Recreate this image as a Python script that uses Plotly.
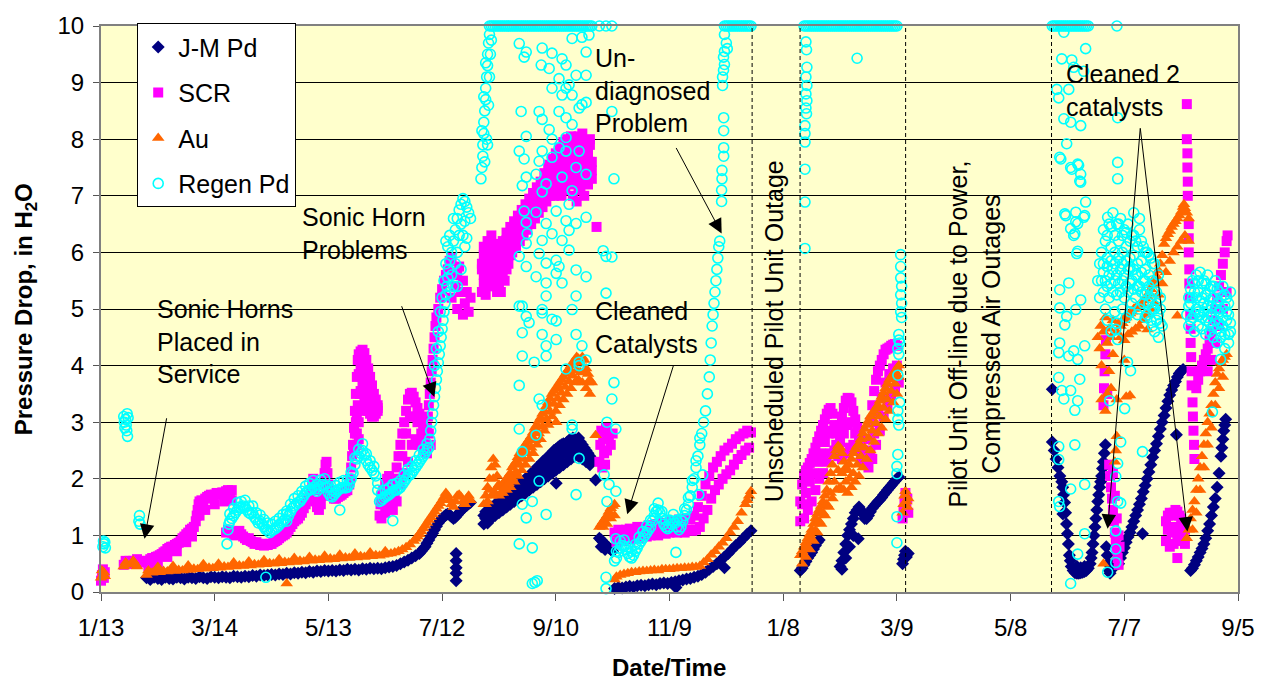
import pandas as pd
import plotly.graph_objects as go

START_DATE = "2006-01-13"
END_DATE = "2007-09-05"
TICK_STEP_DAYS = 60

# Points: (days since 1/13, pressure drop in H2O)
JM_PD_YEAR1 = [
    (24,0.25),(26,0.22),(28,0.26),(30,0.24),(32,0.22),(34,0.26),(36,0.24),(38,0.23),(40,0.26),(42,0.25),
    (44,0.23),(46,0.26),(48,0.25),(50,0.24),(52,0.27),(54,0.25),(56,0.24),(58,0.27),(60,0.26),(62,0.25),
    (64,0.27),(66,0.26),(68,0.25),(70,0.28),(72,0.27),(74,0.26),(76,0.28),(78,0.27),(80,0.29),(82,0.28),
    (84,0.3),(86,0.29),(88,0.3),(90,0.31),(92,0.3),(94,0.32),(96,0.31),(98,0.33),(100,0.32),(102,0.34),
    (104,0.33),(106,0.35),(108,0.34),(110,0.36),(112,0.35),(114,0.37),(116,0.36),(118,0.38),(120,0.37),
    (122,0.38),(124,0.37),(126,0.39),(128,0.38),(130,0.4),(132,0.39),(134,0.4),(136,0.39),(138,0.41),
    (140,0.4),(142,0.42),(144,0.41),(146,0.42),(148,0.41),(150,0.43),(152,0.44),(154,0.45),(156,0.47),
    (158,0.5),(160,0.53),(162,0.56),(164,0.6),(166,0.64),(168,0.68),(169,0.72),(170,0.76),(171,0.8),
    (172,0.86),(173,0.92),(174,0.98),(175,1.04),(176,1.1),(177,1.16),(178,1.22),(179,1.27),(180,1.3),
    (181,1.33),(182,1.36),(183,1.38),(184,1.36),(185,1.33),(186,1.3),(187,1.32),(188,1.36),(189,1.4),
    (190,1.44),(191,1.47),(192,1.5),(193,1.53),(194,1.56),(195,1.58),
    (187.4,0.68),(187.4,0.55),(187.4,0.43),(187.4,0.33),(187.4,0.2),
    (202,1.35),(203,1.42),(204,1.38),(205,1.45),(206,1.5),(207,1.48),(208,1.55),(209,1.52),(210,1.58),
    (211,1.62),(212,1.6),(213,1.66),(214,1.7),(215,1.72),(216,1.75),(217,1.78),(218,1.82),(219,1.85),
    (220,1.88),(221,1.9),(222,1.92),(223,1.96),(224,2.0),(225,2.02),(226,2.05),(227,2.1),(228,2.12),
    (229,2.15),(230,2.2),(231,2.22),(232,2.25),(233,2.3),(234,2.32),(235,2.35),(236,2.4),(237,2.42),
    (238,2.45),(239,2.5),(240,2.52),(241,2.55),(242,2.58),(243,2.6),(244,2.62),(245,2.6),(246,2.65),
    (247,2.68),(248,2.7),(249,2.72),(250,2.7),(251,2.68),(252,2.72),(253,2.65),(254,2.6),(255,2.55),
    (256,2.5),(257,2.45),(258,2.4),(259,2.3),
    (202,1.2),(204,1.22),(206,1.3),(208,1.35),(210,1.4),(212,1.45),(214,1.5),(216,1.55),(218,1.6),
    (220,1.65),(222,1.7),(224,1.75),(226,1.8),(228,1.85),(230,1.9),(232,1.95),(234,2.0),(236,2.05),
    (238,2.1),(240,2.15),(242,2.2),(244,2.25),(246,2.3),(248,2.35),(250,2.4),(252,2.4),(254,2.35),
    (256,2.3),(258,2.25),(240.2,1.92),(261,1.98),
    (203,1.3),(205,1.33),(207,1.4),(209,1.45),(211,1.52),(213,1.57),(215,1.62),(217,1.67),(219,1.72),
    (221,1.78),(223,1.83),(225,1.9),(227,1.95),(229,2.0),(231,2.05),(233,2.12),(235,2.18),(237,2.24),
    (239,2.3),(241,2.35),(243,2.42),(245,2.45),(247,2.5),(249,2.55),(251,2.55),(253,2.5),(255,2.45),(257,2.38),
    (263,0.95),(264,0.92),(265,0.88),(266,0.85),(267,0.8),(268,0.78),(269,0.75),(270,0.72),(264,0.8),(266,0.75),
    (271,0.06),(273,0.08),(275,0.07),(277,0.09),(279,0.1),(281,0.09),(283,0.11),(285,0.12),(287,0.11),
    (289,0.13),(291,0.14),(293,0.13),(295,0.15),(297,0.16),(299,0.15),(301,0.17),(303,0.18),(305,0.2),
    (307,0.21),(309,0.23),(311,0.24),(313,0.26),(315,0.28),(317,0.31),(319,0.35),(321,0.4),(323,0.45),
    (325,0.5),(327,0.56),(329,0.62),(331,0.68),(333,0.75),(335,0.82),(337,0.88),(339,0.95),(341,1.02),
    (343,1.08),(303.4,0.08),(329,0.43),
]
JM_PD_YEAR2 = [
    (369,0.38),(370,0.42),(371,0.48),(372,0.54),(373,0.6),(374,0.65),(375,0.7),(376,0.76),(377,0.82),
    (378,0.88),(379,0.92),
    (390,0.45),(391,0.55),(392,0.7),(393,0.85),(394,1.0),(395,1.1),(396,1.2),(397,1.3),(398,1.4),
    (399,1.45),(400,1.5),(401,1.45),(402,1.38),(403,1.3),(404,1.3),(405,1.35),(406,1.42),(407,1.48),
    (408,1.52),(409,1.56),(410,1.6),(411,1.63),(412,1.67),(413,1.72),(414,1.76),(415,1.8),(416,1.84),
    (417,1.88),(418,1.92),(419,1.96),(420,2.0),(421,2.03),(391,0.4),(393,0.6),(395,0.8),(397,1.0),
    (399.6,0.94),
    (423,0.5),(423.5,0.58),(424,0.65),(424.5,0.72),(425,0.62),(426,0.68),
    (502,2.65),(503,2.5),(504,2.35),(505,2.2),(506,2.05),(507,1.95),(507.5,1.85),(508,1.72),(508.5,1.58),
    (509,1.4),(509.5,1.2),(510,1.03),(510.5,0.85),(511,0.65),(511.5,0.55),(512,0.45),(513,0.38),
    (514,0.34),(515,0.33),(516,0.33),(517,0.34),(518,0.35),(519,0.36),(520,0.38),(521,0.42),(522,0.5),
    (522.5,0.6),(523,0.7),(523.5,0.85),(524,1.0),(524.5,1.15),(525,1.3),(525.5,1.45),(526,1.6),
    (526.5,1.72),(527,1.85),(527.5,1.95),(528,2.05),(528.5,2.18),(529,2.3),(529.5,2.45),(530,2.6),
    (515,0.45),(517,0.43),(519,0.45),(502,3.58),(507.6,1.38),
    (530.5,0.8),(531,0.65),(531.5,0.5),(532,0.38),(532.5,0.33),(533,0.4),(534,0.5),(535,0.45),
    (536,0.55),(537,0.5),(538,0.6),(539,0.7),(540,0.78),(541,0.88),(542,0.97),(543,1.05),(544,1.15),
    (545,1.25),(546,1.35),(547,1.45),(548,1.55),(549,1.65),(550,1.77),(551,1.88),(552,2.0),(553,2.12),
    (554,2.25),(555,2.38),(556,2.5),(557,2.62),(558,2.75),(559,2.88),(560,3.0),(561,3.12),(562,3.25),
    (563,3.37),(564,3.48),(565,3.57),(566,3.65),(567,3.72),(568,3.8),(569,3.86),(570,3.9),(571,3.93),
    (549.6,1.03),(567.5,2.78),
    (575,0.38),(576,0.42),(577,0.48),(578,0.55),(579,0.62),(580,0.7),(581,0.77),(582,0.85),(583,0.95),
    (584,1.08),(585,1.2),(586,1.35),(587,1.5),(588,1.65),(589,1.85),(590,2.1),(591,2.4),(591.5,2.55),
    (592,2.7),(592.5,2.85),(593,2.95),(593.5,3.05),
]

SCR_YEAR1 = [
    (0,0.2),(0.5,0.3),(1,0.4),(1.5,0.25),(2,0.35),
    (12,0.48),(13,0.55),(14,0.5),(15,0.55),(16,0.5),(17,0.55),(18,0.5),(19,0.58),(20,0.55),
    (23,0.52),(24,0.55),(25,0.55),(26,0.58),(27,0.6),(28,0.6),(29,0.62),(30,0.63),(31,0.65),(32,0.67),
    (33,0.7),(34,0.72),(35,0.76),(36,0.78),(37,0.8),(38,0.8),(39,0.83),(40,0.85),(41,0.87),(42,0.9),
    (43,0.95),(44,0.98),(45,1.02),(46,1.05),(47,1.1),(48,1.12),(49,1.15),(50,1.25),(50.5,1.35),(51,1.45),
    (51.5,1.55),(52,1.6),(53,1.62),(54,1.6),(55,1.65),(56,1.68),(57,1.7),(58,1.72),(59,1.7),(60,1.72),
    (61,1.75),(62,1.72),(63,1.74),(64,1.76),(65,1.75),(66,1.78),(67,1.8),(68,1.78),(69,1.8),
    (25,0.45),(30,0.5),(35,0.62),(40,0.72),(45,0.88),(48,0.98),(52,1.35),(55,1.45),(60,1.55),(65,1.6),(69,1.62),
    (66,1.05),(67,1.1),(68,1.08),(69,1.05),(70,1.0),(71,1.02),(72,1.05),(73,1.08),(74,1.02),(75,0.98),
    (76,0.95),(77,0.92),(78,0.95),(79,0.9),(80,0.88),(81,0.85),(82,0.88),(83,0.85),(84,0.83),(85,0.85),
    (86,0.82),(87,0.85),(88,0.83),(89,0.85),(90,0.85),(91,0.88),(92,0.9),(93,0.92),(94,0.95),(95,0.98),
    (96,1.0),(97,1.02),(98,1.05),(99,1.1),(100,1.15),(101,1.2),(102,1.25),(103,1.28),(104,1.3),(105,1.35),
    (106,1.4),(107,1.48),(108,1.55),(109,1.62),(110,1.7),(111,1.8),(111.5,1.9),(112,2.0),(112.5,1.8),
    (113,1.6),(114,1.5),(115,1.45),(116,1.55),(117,1.7),(117.5,1.9),(118,2.1),(118.5,2.25),(119,2.3),
    (119.5,2.1),(120,1.9),(121,1.75),(122,1.7),(123,1.65),(124,1.65),(125,1.68),(126,1.7),(127,1.72),
    (128,1.75),(129,1.78),(130,1.8),(131,1.9),(131.5,2.0),(132,2.2),(132.5,2.4),(133,2.6),(133.5,2.9),
    (134,3.2),(134.5,3.5),(135,3.8),(135.5,4.1),(136,4.2),(137,4.25),(138,4.28),(139,4.22),(140,4.1),
    (141,3.95),(142,3.8),(143,3.65),(144,3.5),(145,3.4),(146,3.3),(138,3.9),(139,3.6),(140,3.4),
    (141,3.2),(142,3.15),(143,3.1),(144,3.1),(145,3.15),(146,3.2),(137,3.55),(136,3.85),(136,3.0),
    (137,3.2),(135,2.8),
    (134,2.5),(135,2.6),(136,2.7),(134.5,3.0),(135.5,3.3),(136.5,3.5),(137.5,3.8),(138.5,4.05),
    (137,4.0),(138,3.7),(139,3.35),(139.5,3.9),(140,3.75),(140.5,3.25),(141,3.55),(142,3.45),(143,3.35),
    (144,3.28),(145,3.25),(146,3.25),(141.5,3.7),(142.5,3.6),(143.5,3.45),(134,2.8),(135,3.1),(133.5,2.5),
    (147,1.35),(147.5,1.55),(148,1.7),(149,1.8),(150,1.9),(151,2.0),(152,2.05),(153,1.95),(154,1.85),
    (155,2.0),(156,2.2),(157,2.4),(158,2.6),(159,2.8),(160,3.0),(161,3.2),(162,3.4),(163,3.5),(164,3.52),
    (165,3.45),(166,3.35),(167,3.25),(168,3.15),(169,3.05),(170,2.95),(171,2.85),(172,2.9),(172.5,3.1),
    (173,3.3),(173.5,3.5),(174,3.7),(174.5,3.9),(175,4.1),(175.5,4.3),(176,4.5),(176.5,4.7),(177,4.85),
    (178,5.0),(179,5.2),(180,5.35),(181,5.5),(182,5.6),
    (148,1.3),(150,1.4),(152,1.5),(154,1.45),(156,1.6),(158,1.9),(160,2.1),(162,2.3),(164,2.6),(166,2.7),
    (168,2.6),(170,2.5),(172,2.45),(174,2.6),
    (149,1.55),(151,1.65),(153,1.7),(155,1.75),(157,2.0),(159,2.4),(161,2.8),(163,3.1),(165,3.1),
    (167,3.0),(169,2.8),(171,2.65),(173,2.8),
    (183,5.7),(184,5.85),(185,5.9),(186,5.6),(187,5.4),(188,5.6),(189,5.75),(190,5.3),(191,5.5),(192,5.1),
    (193,5.3),(194,4.95),(195,5.2),(185,5.2),(188,5.0),(191,4.9),
    (201,5.3),(203,5.25),(205,5.4),(207,5.5),(209,5.3),(211,5.3),(213,5.5),(215,5.8),(217,6.0),(219,6.1),
    (221,6.2),(223,6.3),(225,6.4),(227,6.5),(229,6.6),(231,6.7),(233,6.8),(235,6.9),(237,7.0),(239,7.0),
    (241,7.1),(243,7.0),(245,7.1),(247,7.2),(249,7.0),(251,6.9),(253,7.1),(255,7.0),(257,7.2),(259,7.3),
    (202,5.45),(204,5.5),(206,5.6),(208,5.6),(210,5.45),(212,5.55),(214,5.7),(216,5.95),(218,6.12),
    (220,6.22),(222,6.32),(224,6.42),(226,6.52),(228,6.62),(230,6.72),(232,6.82),(234,6.92),(236,7.05),
    (238,7.15),(240,7.18),(242,7.28),(244,7.25),(246,7.32),(248,7.4),(250,7.25),(252,7.15),(254,7.3),
    (256,7.25),(258,7.4),
    (202,5.6),(204,5.7),(206,5.8),(208,5.75),(210,5.6),(212,5.75),(214,5.9),(216,6.1),(218,6.25),(220,6.35),
    (222,6.45),(224,6.55),(226,6.65),(228,6.75),(230,6.85),(232,6.95),(234,7.05),(236,7.2),(238,7.3),
    (240,7.35),(242,7.45),(244,7.45),(246,7.55),(248,7.6),(250,7.5),(252,7.4),(254,7.5),(256,7.45),(258,7.6),
    (201,5.7),(203,5.82),(205,5.92),(207,5.85),(209,5.72),(211,5.85),(213,6.0),(215,6.15),(217,6.28),
    (219,6.38),(221,6.48),(223,6.58),(225,6.68),(227,6.78),(229,6.88),(231,6.98),(233,7.08),(235,7.25),
    (237,7.35),(239,7.42),(241,7.52),(243,7.58),(245,7.65),(247,7.7),(249,7.65),(251,7.58),(253,7.65),
    (255,7.58),(257,7.7),(259,7.45),
    (201,5.8),(203,5.95),(205,6.05),(207,5.95),(209,5.85),(211,5.95),(213,6.1),(215,6.2),(217,6.3),(219,6.4),
    (221,6.5),(223,6.6),(225,6.7),(227,6.8),(229,6.9),(231,7.0),(233,7.1),(235,7.3),(237,7.4),(239,7.5),
    (241,7.6),(243,7.7),(245,7.75),(247,7.8),(249,7.8),(251,7.75),(253,7.8),(255,7.7),(257,7.8),(259,7.6),
    (202,5.95),(204,6.05),(206,6.15),(208,6.05),(210,5.95),(212,6.08),(214,6.22),(216,6.32),(218,6.42),
    (220,6.52),(222,6.62),(224,6.72),(226,6.82),(228,6.92),(230,7.02),(232,7.12),(234,7.25),(236,7.4),
    (238,7.5),(240,7.6),(242,7.7),(244,7.78),(246,7.85),(248,7.92),(250,7.9),(252,7.9),(254,7.95),
    (256,7.82),(258,7.9),
    (202,6.1),(204,6.2),(206,6.3),(208,6.15),(210,6.05),(212,6.2),(214,6.35),(216,6.45),(218,6.55),(220,6.65),
    (222,6.75),(224,6.85),(226,6.95),(228,7.05),(230,7.15),(232,7.25),(234,7.4),(236,7.55),(238,7.65),
    (240,7.75),(242,7.85),(244,7.95),(246,8.0),(248,8.05),(250,8.0),(252,8.05),(254,8.1),(256,7.95),(258,8.0),
    (261.5,6.45),
    (263,2.3),(263.5,2.6),(264,2.85),(265,2.7),(265.5,2.45),(266,2.25),(267,2.5),(268,2.75),(269,2.6),
    (270,2.8),(264.5,2.2),(266.5,2.9),
    (271,1.05),(273,1.1),(275,1.05),(277,1.1),(279,1.12),(281,1.1),(283,1.15),(285,1.12),(287,1.15),
    (289,1.18),(291,1.15),(293,1.2),(295,1.18),(297,1.22),(299,1.2),(301,1.25),(303,1.22),(305,1.28),
    (307,1.25),(309,1.3),(311,1.28),(313,1.35),(315,1.5),(317,1.7),(319,1.9),(321,2.05),(323,2.2),
    (325,2.3),(327,2.4),(329,2.5),(331,2.55),(333,2.62),(335,2.7),(337,2.75),(339,2.8),(341,2.85),(343,2.82),
    (272,0.88),(274,0.92),(276,0.9),(278,0.95),(280,0.93),(282,0.97),(284,0.95),(286,1.0),(288,0.98),
    (290,1.0),(292,1.02),(294,1.0),(296,1.05),(298,1.03),(300,1.05),(302,1.08),(304,1.05),(306,1.1),
    (308,1.05),(310,1.1),(312,1.08),(314,1.1),(316,1.15),(318,1.3),(320,1.45),(322,1.65),(324,1.8),
    (326,1.9),(328,2.0),(330,2.08),(332,2.15),(334,2.25),(336,2.35),(338,2.42),(340,2.5),(342,2.55),
]
SCR_YEAR2 = [
    (369,1.6),(370,1.9),(371,2.05),(372,2.15),(373,2.2),(374,2.28),(375,2.35),(376,2.45),(377,2.55),
    (378,2.65),(379,2.75),(380,2.85),(381,2.95),(382,3.05),(383,3.15),(384,3.22),(385,3.25),(386,3.15),
    (387,2.95),(388,2.8),(389,2.85),(390,2.95),(391,3.1),(392,3.25),(393,3.38),(394,3.43),(395,3.42),
    (396,3.35),(397,3.2),(398,3.05),(399,2.9),(400,2.75),(401,2.6),(402,2.5),(403,2.4),(404,2.45),
    (405,2.7),(406,3.0),(407,3.3),(408,3.55),(409,3.75),(410,3.9),(411,4.0),(412,4.1),(413,4.2),
    (414,4.28),(415,4.3),(416,4.32),(417,4.35),(418,4.37),(419,4.38),(420,4.35),
    (370,1.55),(372,1.75),(374,1.95),(376,2.1),(378,2.3),(380,2.45),(382,2.65),(384,2.8),(386,2.85),
    (388,2.6),(390,2.65),(392,2.8),(394,2.95),(396,3.0),(398,2.8),(400,2.6),(402,2.4),(404,2.25),
    (406,2.5),(408,2.8),(410,3.15),(412,3.45),(414,3.7),(416,3.85),(418,3.95),(420,4.0),
    (369,1.25),(371,1.3),(373,1.45),(375,1.6),(377,1.8),(379,2.0),(381,2.1),(383,2.3),(385,2.45),
    (387,2.5),(389,2.4),(391,2.35),(393,2.45),(395,2.55),(397,2.6),(399,2.5),(401,2.35),(403,2.25),
    (405,2.2),(407,2.35),(409,2.6),(411,2.85),(413,3.1),(415,3.3),(417,3.45),(419,3.6),(421,3.7),
    (423,1.3),(423.5,1.45),(424,1.6),(424.5,1.75),(425,1.5),(425.5,1.65),(426,1.4),
    (529,3.3),(529.3,3.6),(529.6,3.9),(530,4.2),(530.3,4.45),(531,3.5),
    (532,2.25),(532.5,2.05),(533,1.85),(533.5,1.65),(534,1.45),(534.5,1.25),(535,1.05),(535.5,0.9),
    (536,0.75),(536.5,0.6),(537,0.48),(534,2.1),(535,1.7),(536,1.3),(537,1.0),(537.5,0.8),
    (562,1.25),(563,1.35),(564,1.4),(565,1.35),(566,1.4),(567,1.45),(568,1.42),(569,1.35),(570,1.3),
    (571,1.2),(572,1.1),(562,0.9),(564,0.8),(566,0.85),(568,0.95),(570,0.9),(572,0.85),(563,1.1),
    (565,1.05),(567,1.15),(569,1.1),(571,0.95),(568,0.6),
    (573,8.62),(573,8.0),(573.3,7.75),(573.3,7.5),(573.5,7.25),(573.5,7.0),(574,6.5),(574,6.25),
    (574,6.0),(574.3,5.7),(574.3,5.45),(574.5,5.2),(574.8,4.9),(575,4.65),(575,4.4),(575.3,4.15),
    (575.5,3.9),(575.5,3.65),(576,3.35),(576.2,3.1),(576.5,2.85),(576.8,2.6),(577,2.35),
    (578,3.6),(579,3.75),(580,3.9),(581,4.0),(582,4.1),(583,4.2),(584,4.3),(585,4.45),(586,4.6),
    (587,4.8),(588,5.0),(589,5.2),(590,5.4),(591,5.6),(592,5.8),(593,6.0),(594,6.2),(594.5,6.3),
    (584,3.9),(586,4.1),(588,4.4),(590,4.7),(592,5.0),(594,5.3),
]

AU_YEAR1 = [
    (0,0.25),(0.5,0.38),(1,0.3),(1.5,0.35),(2,0.28),
    (12,0.45),(13,0.52),(14,0.48),(16,0.5),(17,0.55),(18,0.5),(19,0.45),
    (24,0.3),(25,0.38),(27,0.34),(29,0.36),(31,0.35),(33,0.37),(35,0.36),(37,0.38),(39,0.37),(41,0.39),
    (43,0.38),(45,0.4),(47,0.39),(49,0.41),(51,0.4),(53,0.42),(55,0.41),(57,0.43),(59,0.42),(61,0.44),
    (63,0.43),(65,0.45),(67,0.44),(69,0.46),(71,0.45),(73,0.47),(75,0.46),(77,0.48),(79,0.47),(81,0.49),
    (83,0.48),(85,0.5),(87,0.49),(89,0.51),(91,0.5),(93,0.52),(95,0.51),(97,0.53),(99,0.52),(101,0.54),
    (103,0.53),(105,0.55),(107,0.54),(109,0.56),(111,0.55),(113,0.57),(115,0.56),(117,0.58),(119,0.57),
    (121,0.59),(123,0.58),(125,0.6),(127,0.59),(129,0.61),(131,0.6),(133,0.62),(135,0.61),(137,0.63),
    (139,0.62),(141,0.64),(143,0.63),(145,0.65),(147,0.64),(149,0.66),(151,0.67),(153,0.68),(155,0.7),
    (157,0.72),(159,0.75),(161,0.79),(163,0.84),(165,0.9),(166,0.94),(167,0.98),(168,1.02),(169,1.07),
    (170,1.12),(171,1.17),(172,1.22),(173,1.27),(174,1.32),(175,1.37),(176,1.42),(177,1.47),(178,1.52),
    (179,1.57),(180,1.62),(181,1.68),(182,1.75),(183,1.7),(184,1.62),(185,1.55),(186,1.5),(187,1.6),
    (188,1.7),(189,1.72),(190,1.68),(191,1.6),(192,1.55),(193,1.65),(194,1.7),(195,1.62),(98,0.15),
    (30,0.44),(38,0.46),(46,0.47),(54,0.49),(62,0.5),(70,0.52),(78,0.54),(86,0.56),(94,0.58),(102,0.6),
    (110,0.62),(118,0.64),(126,0.66),(134,0.68),(142,0.7),(150,0.72),
    (202,1.55),(203,1.7),(204,1.85),(205,2.0),(206,2.2),(207,2.35),(208,2.25),(209,2.05),(210,1.9),
    (211,1.85),(212,1.9),(213,1.95),(214,2.0),(215,2.05),(216,2.1),(217,2.2),(218,2.25),(219,2.3),
    (220,2.38),(221,2.45),(222,2.5),(223,2.55),(224,2.6),(225,2.65),(226,2.7),(227,2.75),(228,2.82),
    (229,2.9),(230,2.95),(231,3.02),(232,3.08),(233,3.15),(234,3.2),(235,3.28),(236,3.35),(237,3.42),
    (238,3.5),(239,3.55),(240,3.6),(241,3.65),(242,3.7),(243,3.75),(244,3.8),(245,3.85),(246,3.9),
    (247,3.95),(248,4.0),(249,4.05),(250,4.1),(251,4.15),(252,4.12),(253,4.05),(254,4.15),(255,4.1),
    (256,3.95),(257,3.85),(258,3.75),(259,3.7),
    (204,1.6),(206,1.7),(208,1.75),(210,1.7),(212,1.75),(214,1.8),(216,1.85),(218,1.95),(220,2.05),
    (222,2.15),(224,2.25),(226,2.35),(228,2.45),(230,2.6),(232,2.7),(234,2.85),(236,2.95),(238,3.1),
    (240,3.2),(242,3.3),(244,3.4),(246,3.5),(248,3.6),(250,3.7),(252,3.75),(254,3.7),(256,3.6),(258,3.5),
    (203,1.55),(205,1.8),(207,2.0),(209,1.85),(211,1.75),(213,1.85),(215,1.92),(217,2.0),(219,2.12),
    (221,2.25),(223,2.35),(225,2.45),(227,2.55),(229,2.68),(231,2.8),(233,2.92),(235,3.05),(237,3.18),
    (239,3.32),(241,3.42),(243,3.52),(245,3.62),(247,3.72),(249,3.82),(251,3.92),(253,3.88),(255,3.9),(257,3.7),
    (240.2,3.0),(261,2.77),
    (263,1.15),(264,1.2),(265,1.25),(266,1.3),(267,1.35),(268,1.42),(269,1.48),(270,1.52),(271,1.55),
    (265,1.15),(267,1.2),(269,1.3),(271,1.35),
    (271,0.22),(272,0.27),(274,0.3),(276,0.32),(278,0.33),(280,0.35),(282,0.35),(284,0.36),(286,0.37),
    (288,0.37),(290,0.38),(292,0.39),(294,0.38),(296,0.4),(298,0.4),(300,0.4),(302,0.41),(304,0.42),
    (306,0.42),(308,0.43),(310,0.43),(312,0.44),(314,0.44),(316,0.46),(318,0.52),(320,0.58),(322,0.66),
    (324,0.72),(326,0.8),(328,0.87),(330,0.95),(332,1.05),(334,1.15),(336,1.25),(338,1.4),(340,1.55),
    (341,1.62),(342,1.7),(343,1.78),
]
AU_YEAR2 = [
    (369,0.65),(370,0.72),(371,0.8),(372,0.88),(373,0.95),(374,1.02),(375,1.1),(376,1.2),(377,1.3),
    (378,1.38),(379,1.45),(380,1.52),(381,1.6),(382,1.7),(383,1.8),(384,1.95),(385,2.1),(386,2.25),
    (387,2.4),(388,2.5),(389,2.58),(390,2.55),(391,2.45),(392,2.3),(393,2.2),(394,2.15),(395,2.25),
    (396,2.35),(397,2.45),(398,2.52),(399,2.58),(400,2.62),(401,2.7),(402,2.8),(403,2.88),(404,2.95),
    (405,3.02),(406,3.1),(407,3.15),(408,3.2),(409,3.25),(410,3.3),(411,3.38),(412,3.45),(413,3.52),
    (414,3.6),(415,3.68),(416,3.75),(417,3.8),(418,3.85),(419,3.9),(420,3.95),(421,4.0),
    (370,0.5),(372,0.62),(374,0.75),(376,0.9),(378,1.05),(380,1.2),(382,1.35),(384,1.5),(386,1.65),
    (388,1.8),(390,1.85),(392,1.8),(394,1.75),(396,1.85),(398,1.95),(400,2.05),(402,2.2),(404,2.35),
    (406,2.5),(408,2.65),(410,2.8),(412,2.9),(414,3.05),(416,3.2),(418,3.35),(420,3.5),
    (371,0.65),(373,0.78),(375,0.92),(377,1.08),(379,1.25),(381,1.4),(383,1.55),(385,1.75),(387,1.95),
    (389,2.15),(391,2.1),(393,1.95),(395,2.0),(397,2.1),(399,2.25),(401,2.4),(403,2.55),(405,2.72),
    (407,2.85),(409,2.98),(411,3.1),(413,3.25),(415,3.4),(417,3.55),(419,3.68),(421,3.8),
    (423,1.4),(423.5,1.55),(424,1.7),(424.5,1.78),(425,1.6),(425.5,1.5),(426,1.65),
    (526,4.5),(527,4.3),(527.5,4.7),(528,4.0),(528,3.4),(529,4.6),(529,0.5),(530,3.2),(530,4.85),
    (531,3.5),(531,4.4),(532,3.9),(532,4.65),(533,3.6),(533,4.5),(534,4.2),(534,4.8),(535,2.3),
    (535.5,2.5),(536,2.75),(536,3.4),(536,4.6),(537,4.75),(538,4.5),(539,4.8),(540,4.1),(541,3.45),
    (541.5,4.9),(543,3.47),(552.3,4.64),(568,4.88),
    (538,4.7),(539,4.75),(540,4.8),(541,4.85),(542,4.9),(543,4.92),(544,4.95),(545,5.0),(546,5.02),
    (547,5.05),(548,5.08),(549,5.1),(550,5.15),(551,5.18),(552,5.22),(553,5.28),(554,5.35),(555,5.42),
    (556,5.5),(557,5.58),(558,5.68),(559,5.8),(560,5.95),(561,6.15),(562,6.25),(563,6.32),(564,6.38),
    (565,6.45),(566,6.5),(567,6.55),(568,6.6),(569,6.65),(570,6.72),(571,6.8),(571.5,6.85),(572,6.78),
    (573,6.7),(574,6.6),
    (540,4.45),(542,4.55),(544,4.6),(546,4.65),(548,4.7),(550,4.8),(552,4.9),(554,5.0),(556,5.1),
    (558,5.25),(560,5.45),(562,5.65),(564,5.85),(566,6.0),(568,6.1),(570,6.2),(572,6.3),(574,6.2),
    (573,0.95),(574,1.1),(575,1.3),(576,1.45),(577,1.6),(578,1.8),(579,2.0),(580,2.2),(581,2.4),
    (582,2.6),(583,2.8),(584,3.0),(585,3.15),(586,3.3),(587,3.5),(588,3.7),(589,3.85),(590,3.95),
    (591,4.05),(592,4.1),(593,4.15),(594,4.2),
    (576,1.1),(578,1.4),(580,1.8),(582,2.2),(584,2.6),(586,2.9),(588,3.3),(590,3.6),(592,3.8),
]

REGEN_PD_YEAR1 = [
    (1,0.8),(1.3,0.9),(1.6,0.85),(2,0.88),(2.3,0.78),
    (12,3.1),(12.3,3.0),(12.6,2.9),(13,3.05),(13.3,2.95),(13.6,2.85),(14,2.75),(14.3,3.08),(13.8,3.15),
    (20,1.25),(20.3,1.35),(20.6,1.2),(87,0.26),
    (66.5,0.85),(67,1.1),(67.5,1.2),(68,1.25),(69,1.3),(70,1.35),(71,1.4),(72,1.45),(73,1.5),(74,1.48),
    (75,1.52),(76,1.5),(77,1.45),(78,1.4),(79,1.38),(80,1.4),(81,1.32),(82,1.28),(83,1.22),(84,1.25),
    (85,1.2),(86,1.15),(87,1.1),(88,1.1),(89,1.05),(90,1.08),(91,1.1),(92,1.12),(93,1.15),(94,1.18),
    (95,1.22),(96,1.25),(97,1.28),(98,1.25),(99,1.35),(100,1.42),(101,1.48),(102,1.52),(103,1.55),
    (104,1.58),(105,1.6),(106,1.65),(107,1.7),(108,1.75),(109,1.78),(110,1.8),(111,1.82),(112,1.85),
    (113,1.82),(114,1.78),(115,1.82),(116,1.86),(117,1.9),(118,1.88),(119,1.85),(120,1.75),(121,1.7),
    (122,1.68),(123,1.72),(124,1.76),(125,1.8),(126,1.82),(127,1.84),(128,1.85),(129,1.84),(130,1.85),
    (131,1.9),(132,2.0),(133,2.1),(134,2.25),(135,2.35),(136,2.4),(137,2.45),(138,2.5),(139,2.42),
    (140,2.32),(141,2.25),(142,2.2),(143,2.15),(144,2.1),(145,2.05),(146,1.8),(147,1.6),(148,1.62),
    (149,1.65),(150,1.68),(151,1.7),(152,1.72),(153,1.75),(154,1.78),(155,1.8),(156,1.8),(157,1.82),
    (158,1.85),(159,1.9),(160,1.95),(161,2.0),(162,2.05),(163,2.07),(164,2.1),(165,2.15),(166,2.2),
    (167,2.25),(168,2.3),(169,2.35),(170,2.4),(171,2.45),(172,2.5),(173,2.55),(173.5,2.7),(174,2.85),
    (174.5,3.0),(175,3.15),(175.5,3.3),(176,3.45),(176.5,3.6),(177,3.75),(177.5,3.9),(178,4.05),
    (178.5,4.2),(179,4.35),(179.5,4.5),(180,4.65),(180.5,4.8),(181,4.95),(181.5,5.1),(182,5.25),
    (182.5,5.4),(183,5.55),(183.5,5.7),(184,5.85),(185,6.0),(186,6.2),(187,6.4),(188,6.6),(189,6.75),
    (190,6.85),(191,6.95),(192,6.9),(193,6.8),(194,6.7),(195,6.6),
    (68,1.38),(70,1.48),(72,1.58),(74,1.6),(76,1.62),(78,1.52),(80,1.52),(82,1.4),(84,1.36),(86,1.28),
    (88,1.22),(90,1.2),(92,1.25),(94,1.3),(96,1.37),(98,1.38),(100,1.55),(102,1.65),(104,1.7),(106,1.78),
    (108,1.87),(110,1.92),(112,1.97),(114,1.9),(116,1.98),(118,2.0),(120,1.87),(122,1.8),(124,1.88),
    (126,1.94),(128,1.97),(130,1.97),(132,2.12),(134,2.37),(136,2.52),(138,2.62),(140,2.44),(142,2.32),
    (144,2.22),(146,1.92),(148,1.74),(150,1.8),(152,1.84),(154,1.9),(156,1.92),(158,1.97),(160,2.07),
    (162,2.17),(164,2.22),(166,2.32),(168,2.42),(170,2.52),(172,2.62),
    (180,5.2),(181,5.5),(182,5.8),(183,6.1),(184,5.3),(185,5.6),(186,5.4),(187,5.8),(188,6.0),(189,6.3),
    (190,6.5),(191,6.3),(192,6.55),(193,6.25),(186,6.6),(184,6.3),(182,6.2),(178,4.6),(179,4.95),
    (177,4.3),(176,4.0),(188,5.4),(190,5.7),(192,6.1),
    (98,1.43),(154,1.26),(154,1.9),(126,1.45),
    (200.5,7.3),(201,7.5),(201.5,7.7),(201.5,7.9),(202,8.1),(202,8.3),(202.5,8.5),(203,8.7),(203,8.9),
    (203.5,9.1),(204,9.3),(204,9.5),(204.5,9.7),(205,9.85),(201,8.15),(202,8.75),(203,9.35),(203.5,8.0),
    (204.5,8.6),(205,9.1),(205.5,9.5),(206,9.75),(202.5,7.6),(204,7.9),
    (220.7,9.69),(224.4,9.54),(223.3,9.45),(232.8,9.61),(238,9.52),(232.3,9.31),(236.5,9.25),(243.3,9.42),
    (245.4,9.31),(241.7,9.07),(250.7,9.13),(256,9.13),(256,9.54),(248.6,9.78),(253.8,9.8),(257.5,9.84),
    (238,8.9),(245.4,8.9),(247,8.96),(243.3,8.78),(248.6,8.78),(253.8,8.61),(256,8.65),(221.7,8.49),
    (231.2,8.49),(232.8,8.35),(241.7,8.49),(245.4,8.38),(252.3,8.55),(269.6,8.49),(224.4,8.05),
    (236.5,8.17),(238,8.0),(245.4,8.03),(248.6,8.26),(220.7,7.79),(232.8,7.79),(241.7,7.85),(223.3,7.65),
    (231.2,7.61),(238,7.68),(245.4,7.79),(252.3,7.79),(224.4,7.33),(229.6,7.38),(234.9,7.21),(243.3,7.33),
    (250.7,7.5),(256,7.38),(270.7,7.3),(222.3,7.18),(232.8,7.07),(248.6,7.09),(223.3,6.73),(229.6,6.71),
    (240.2,6.73),(247,6.85),(256,6.62),(224.4,6.53),(234.9,6.51),(245.4,6.56),(250.7,6.51),(224.9,6.33),
    (238,6.33),(247,6.39),(224.4,6.16),(232.8,6.21),(243.3,6.21),(220.7,5.93),(231.2,5.98),(240.2,5.86),
    (247,6.04),(224.4,5.75),(234.9,5.81),(241.7,5.75),(229.6,5.57),(240.2,5.63),(250.7,5.69),(266.5,5.93),
    (234.9,5.46),(243.3,5.46),(256,5.57),(266.5,5.28),(234.9,5.23),(250.7,5.23),(222.3,5.05),(232.8,4.99),
    (248.6,4.99),(238,4.82),
    (220.7,5.05),(224.4,4.87),(222.3,4.58),(225.9,4.76),(232.8,4.93),(240.2,4.79),(222.3,4.17),(228.6,4.06),
    (232.8,4.55),(234.9,4.35),(240.2,4.46),(234.9,4.17),(245.4,3.94),(252.3,4.0),(250.7,4.55),(253.8,4.35),
    (220.7,3.65),(231.2,3.41),(232.8,3.3),(220.7,2.88),(248.6,2.95),(222.3,2.48),(229.6,2.77),(231.2,1.96),
    (227.6,1.6),(224.4,1.31),(234.9,1.37),(250.7,1.72),(220.7,0.85),(227.6,0.78),(227.6,0.15),(230.2,0.2),
    (229,0.17),(222.3,1.55),(252.3,2.36),(248.6,2.88),(252.3,4.06),(256,4.1),(270.7,3.7),(269.6,3.41),
    (267,3.0),(271.7,2.88),(265.5,2.07),(268.1,1.9),(271.7,1.78),(267,1.6),(271.7,0.94),(266.5,0.26),
    (266.5,0.06),(265,6.03),(269.6,5.92),
    (271,0.55),(272,0.6),(273,0.7),(274,0.78),(275,0.82),(276,0.8),(277,0.75),(278,0.68),(279,0.62),
    (280,0.6),(281,0.65),(282,0.72),(283,0.78),(284,0.85),(285,0.9),(286,0.95),(287,1.0),(288,1.05),
    (289,1.1),(290,1.15),(291,1.25),(292,1.35),(293,1.42),(294,1.45),(295,1.4),(296,1.3),(297,1.2),
    (298,1.15),(299,1.12),(300,1.15),(301,1.2),(302,1.25),(303,1.22),(304,1.15),(305,1.1),(306,1.15),
    (307,1.25),(308,1.35),(309,1.45),(310,1.55),(311,1.7),(312,1.85),(313,2.0),(314,2.2),(315,2.4),
    (316,2.6),(317,2.8),(318,3.0),(319,3.2),(320,3.5),(321,3.8),(321.5,4.1),(322,4.4),(322.5,4.7),
    (323,4.9),(323.5,5.1),(324,5.3),(324.5,5.5),(325,5.7),(325.5,5.9),(326,6.1),(326.5,6.2),
    (272,0.72),(274,0.9),(276,0.92),(278,0.8),(280,0.72),(282,0.84),(284,0.97),(286,1.07),(288,1.17),
    (290,1.27),(292,1.47),(294,1.57),(296,1.42),(298,1.27),(300,1.27),(302,1.37),(304,1.27),(306,1.27),
    (308,1.47),(310,1.67),(312,1.97),(314,2.32),(316,2.72),
    (303.4,0.7),(315.5,1.72),(317.5,2.07),
    (327.5,6.9),(327.5,7.1),(327.7,7.3),(327.7,7.45),(328.6,7.7),(328.6,7.85),(328.6,8.15),(328.6,8.38),
    (328,8.95),(328,9.1),(328.5,9.22),(329,9.32),(328.5,9.45),(329,9.55),(330,9.7),(329,9.85),(330.5,9.6),
]
REGEN_PD_YEAR2 = [
    (372,9.72),(372.3,9.58),(372.5,9.27),(372,9.1),(372.5,8.95),(372,8.8),(372.5,8.68),(372,8.55),
    (372.3,8.45),(371.5,8.24),(371.5,8.1),(371.5,7.95),(371.5,7.47),(371.5,6.89),(371.5,6.07),(399,9.43),
    (422,5.96),(422,5.75),(422,5.55),(422.5,5.4),(422,5.25),(422.5,5.1),(422,4.95),(422.5,4.85),(421,4.55),
    (421.5,4.4),(421,4.2),(420.5,3.83),(420.5,3.2),(420.5,3.05),(421,2.95),(420.5,2.43),(420,2.22),
    (420,2.09),(420,1.33),(420,0.87),(421,4.45),(421.5,3.35),(420.5,4.3),
    (508.1,9.89),(507,9.42),(512.3,9.4),(513.3,9.27),(519.6,9.6),(518.6,9.2),(504.4,8.88),(510.7,8.88),
    (505.4,8.73),(508.1,8.36),(511.7,8.3),(517,8.24),(536.5,8.38),(509.6,7.92),(506.5,7.65),(512.3,7.47),
    (515.9,7.54),(517,7.38),(517,7.24),(536.5,7.59),(536.5,7.3),(519.6,6.89),(509.1,6.65),(514.4,6.71),
    (518.6,6.62),(515.4,6.51),(511.7,6.42),(513.3,6.3),(514.9,5.98),(505.9,7.68),(511.7,7.5),(515.4,7.56),
    (516.5,7.26),(508.6,6.68),(514.4,6.54),(519.1,6.65),(513.9,6.33),(515.4,6.02),(505.9,5.34),(510.7,5.46),
    (505.9,5.02),(509.6,4.87),(508.6,4.72),(514.4,4.99),(517,5.16),(505.9,4.4),(505.4,4.23),(510.7,4.17),
    (513.3,4.26),(515.4,4.11),(519.1,4.35),(505.4,3.79),(516.5,3.76),(507,3.56),(511.7,3.56),(508.1,3.41),
    (515.4,3.38),(513.9,3.21),(505.4,2.57),(513.9,2.6),(505.4,2.34),(511.7,1.82),(519.1,1.9),(505.4,1.6),
    (505.9,1.51),(519.1,1.03),(515.4,0.67),(511.7,0.15),(549.6,2.48),(538.1,2.65),(536.5,2.27),(535.5,2.04),
    (536.5,1.6),(538.1,1.57),(535.5,1.08),(535.5,0.76),(535.5,0.52),(531.2,0.35),(532.3,3.38),(541.7,4.06),
    (543.3,3.91),(540.2,3.24),(535.5,4.64),(536.5,4.46),(586.5,3.18),(531.2,6.62),
    (528,6.0),(530,6.2),(532,6.5),(534,6.7),(536,6.5),(538,6.6),(540,6.4),(542,6.5),(544,6.3),(546,6.2),
    (548,6.4),(550,6.1),(552,6.0),(554,5.9),(556,5.8),(558,5.6),
    (529,6.4),(531,6.3),(533,6.45),(535,6.3),(537,6.5),(539,6.3),(541,6.35),(543,6.2),(545,6.3),
    (547,6.1),(549,6.2),(551,6.0),(553,5.95),(555,5.8),
    (528,5.5),(529,5.8),(531,5.9),(533,6.1),(535,6.0),(537,6.2),(539,6.0),(541,6.1),(543,5.9),(545,5.95),
    (547,5.8),(549,5.85),(551,5.7),(553,5.6),(555,5.5),(557,5.3),(559,5.2),
    (527,5.2),(529,5.65),(531,5.75),(533,5.85),(535,5.8),(537,5.9),(539,5.8),(541,5.85),(543,5.75),
    (545,5.7),(547,5.6),(549,5.65),(551,5.5),(553,5.4),(555,5.3),(557,5.1),(559,5.0),
    (529,5.3),(530,5.5),(532,5.6),(534,5.7),(536,5.6),(538,5.7),(540,5.6),(542,5.7),(544,5.5),(546,5.6),
    (548,5.4),(550,5.5),(552,5.3),(554,5.2),(556,5.0),(558,4.9),(560,4.7),
    (531,5.4),(533,5.45),(535,5.5),(537,5.45),(539,5.5),(541,5.4),(543,5.45),(545,5.35),(547,5.4),
    (549,5.3),(551,5.25),(553,5.1),(555,5.0),(557,4.8),(559,4.75),
    (530,5.0),(532,5.2),(534,5.3),(536,5.25),(538,5.3),(540,5.2),(542,5.3),(544,5.1),(546,5.2),(548,5.0),
    (550,5.1),(552,4.9),(554,4.8),(556,4.6),(558,4.5),
    (535,4.95),(539,5.0),(543,4.95),(547,4.9),(551,4.85),(555,4.7),
    (531,4.8),(533,4.6),(545,6.7),(548,6.6),(527,5.8),(526,5.5),(536,4.75),(541,4.85),
    (574,5.2),(576,5.5),(578,5.6),(580,5.65),(582,5.5),(584,5.6),(586,5.4),(588,5.5),(590,5.3),(592,5.4),
    (594,5.2),(596,5.3),
    (575,5.35),(577,5.45),(579,5.5),(581,5.45),(583,5.45),(585,5.35),(587,5.4),(589,5.35),(591,5.2),
    (593,5.25),(595,5.1),
    (573,4.9),(575,5.1),(577,5.3),(579,5.3),(581,5.2),(583,5.25),(585,5.15),(587,5.2),(589,5.1),(591,5.0),
    (593,5.05),(595,4.9),
    (574,5.05),(576,5.2),(578,5.2),(580,5.15),(582,5.1),(584,5.05),(586,5.05),(588,5.0),(590,4.95),
    (592,4.85),(594,4.95),(596,4.75),
    (574,4.7),(576,4.85),(578,5.0),(580,4.9),(582,4.95),(584,4.85),(586,4.9),(588,4.8),(590,4.75),(592,4.7),
    (594,4.8),(596,4.6),
    (575,4.8),(577,4.9),(579,4.95),(581,4.85),(583,4.8),(585,4.75),(587,4.7),(589,4.65),(591,4.6),
    (593,4.55),(595,4.55),
    (577,4.6),(579,4.7),(581,4.65),(583,4.55),(585,4.6),(587,4.5),(589,4.4),(591,4.5),(593,4.3),(595,4.4),
    (590.8,4.11),
]
# Readings pegged at the 10 in. H2O instrument ceiling
REGEN_PD_AT_CEILING = [
    (205,10),(206,10),(207,10),(208,10),(209,10),(210,10),(211,10),(212,10),(213,10),(214,10),(215,10),
    (216,10),(217,10),(218,10),(219,10),(220,10),(221,10),(222,10),(223,10),(224,10),(225,10),(226,10),
    (227,10),(228,10),(229,10),(230,10),(231,10),(232,10),(233,10),(234,10),(235,10),(236,10),(237,10),
    (238,10),(239,10),(240,10),(241,10),(242,10),(243,10),(244,10),(245,10),(246,10),(247,10),(248,10),
    (249,10),(250,10),(251,10),(252,10),(253,10),(254,10),(255,10),(256,10),(257,10),(258,10),(259,10),
    (263,10),(266.5,10),(269.6,10),
    (329,10),(330,10),(331,10),(332,10),(333,10),(334,10),(335,10),(336,10),(337,10),(338,10),(339,10),
    (340,10),(341,10),(342,10),(343,10),
    (371,10),(372,10),(373,10),(374,10),(375,10),(376,10),(377,10),(378,10),(379,10),(380,10),(381,10),
    (382,10),(383,10),(384,10),(385,10),(386,10),(387,10),(388,10),(389,10),(390,10),(391,10),(392,10),
    (393,10),(394,10),(395,10),(396,10),(397,10),(398,10),(399,10),(400,10),(401,10),(402,10),(403,10),
    (404,10),(405,10),(406,10),(407,10),(408,10),(409,10),(410,10),(411,10),(412,10),(413,10),(414,10),
    (415,10),(416,10),(417,10),(418,10),(419,10),(420,10),
    (502,10),(503,10),(504,10),(505,10),(506,10),(507,10),(508,10),(509,10),(510,10),(511,10),(512,10),
    (513,10),(514,10),(515,10),(516,10),(517,10),(518,10),(519,10),(520,10),(521,10),(536.1,10),
]

# Outage boundaries (days since 1/13)
OUTAGE_BOUNDARY_DAYS = [343.6, 368.9, 424.6, 501.6]

start = pd.Timestamp(START_DATE)


def to_xy(points):
    xs = [start + pd.Timedelta(days=p[0]) for p in points]
    ys = [p[1] for p in points]
    return xs, ys


FONT = "Arial, 'Liberation Sans', sans-serif"

series = [
    ("J-M Pd", JM_PD_YEAR1 + JM_PD_YEAR2,
     dict(symbol="diamond", size=10, color="#000080", line=dict(width=0))),
    ("SCR", SCR_YEAR1 + SCR_YEAR2,
     dict(symbol="square", size=10, color="#FF00FF", line=dict(width=0))),
    ("Au", AU_YEAR1 + AU_YEAR2,
     dict(symbol="triangle-up", size=11, color="#FF6600", line=dict(width=0))),
    ("Regen Pd", REGEN_PD_YEAR1 + REGEN_PD_YEAR2 + REGEN_PD_AT_CEILING,
     dict(symbol="circle-open", size=10, color="#00FFFF", line=dict(width=1.6, color="#00FFFF"))),
]

fig = go.Figure()
for name, pts, marker in series:
    xs, ys = to_xy(pts)
    fig.add_trace(go.Scatter(x=xs, y=ys, mode="markers", name=name, marker=marker,
                             cliponaxis=False, legendgroup=name))

# dashed outage boundaries
for d in OUTAGE_BOUNDARY_DAYS:
    xd = start + pd.Timedelta(days=d)
    fig.add_shape(type="line", xref="x", yref="paper", x0=xd, x1=xd, y0=0, y1=1,
                  line=dict(color="black", width=1, dash="4px,3px"), layer="above")

L, T, W, H = 100.7, 20.7, 1140.0, 571.0


def px(xpix):
    return (xpix - L) / W


def py(ypix):
    return (T + H - ypix) / H


ANN_FONT = dict(family=FONT, size=25, color="black")
texts = [
    ("Sonic Horns<br>Placed in<br>Service", 155, 339),
    ("Sonic Horn<br>Problems", 300, 230),
    ("Un-<br>diagnosed<br>Problem", 594, 86),
    ("Cleaned<br>Catalysts", 594, 325),
    ("Cleaned 2<br>catalysts", 1066, 86),
]
for t, xp_, yp_ in texts:
    fig.add_annotation(text=t, xref="paper", yref="paper", x=px(xp_), y=py(yp_),
                       xanchor="left", yanchor="middle", align="left", showarrow=False,
                       font=ANN_FONT)

fig.add_annotation(text="Unscheduled Pilot Unit Outage", xref="paper", yref="paper",
                   x=px(775), y=py(329), xanchor="center", yanchor="middle", textangle=-90,
                   showarrow=False, font=ANN_FONT)
fig.add_annotation(text="Pilot Unit Off-line due to Power,<br>Compressed Air Outages",
                   xref="paper", yref="paper", x=px(977), y=py(331), xanchor="center",
                   yanchor="middle", textangle=-90, align="center", showarrow=False,
                   font=ANN_FONT)

arrows = [
    ((144.3, 538), (166.7, 416)),
    ((435, 395), (401.7, 302.7)),
    ((723, 230), (676.7, 143)),
    ((628.3, 513.3), (675, 363)),
    ((1110, 528), (1142.7, 126)),
    ((1190, 530.7), (1142.7, 126)),
]
for (hx, hy), (tx, ty) in arrows:
    fig.add_annotation(text="", xref="paper", yref="paper", x=px(hx), y=py(hy),
                       ax=tx - hx, ay=ty - hy, axref="pixel", ayref="pixel",
                       showarrow=True, arrowhead=2, arrowsize=2.9, arrowwidth=1,
                       arrowcolor="black", standoff=0)

# axis titles
fig.add_annotation(text="<b>Date/Time</b>", xref="paper", yref="paper", x=px(670), y=py(668),
                   xanchor="center", yanchor="middle", showarrow=False,
                   font=dict(family=FONT, size=24, color="black"))
fig.add_annotation(text="<b>Pressure Drop, in H<sub>2</sub>O</b>", xref="paper", yref="paper",
                   x=px(25), y=py(306), xanchor="center", yanchor="middle", textangle=-90,
                   showarrow=False, font=dict(family=FONT, size=24, color="black"))

end = pd.Timestamp(END_DATE)
fig.update_xaxes(type="date", range=[start, end], tick0=start, dtick=TICK_STEP_DAYS * 86400000,
                 tickformat="%-m/%-d", ticks="outside", ticklen=7, tickwidth=1, tickcolor="#555555",
                 showgrid=False, showline=True, linecolor="#808080", linewidth=2, mirror=True,
                 zeroline=False, tickfont=dict(family=FONT, size=24, color="black"),
                 ticklabelstandoff=6)
fig.update_yaxes(range=[0, 10], tick0=0, dtick=1, ticks="outside", ticklen=6, tickwidth=1,
                 tickcolor="#555555", showgrid=True, gridcolor="black", gridwidth=1,
                 showline=True, linecolor="#808080", linewidth=2, mirror=True, zeroline=False,
                 tickfont=dict(family=FONT, size=24, color="black"), ticklabelstandoff=4)

fig.update_layout(
    width=1267, height=681,
    margin=dict(l=101, r=26, t=21, b=89),
    paper_bgcolor="white", plot_bgcolor="#FFFFCC",
    font=dict(family=FONT, size=24, color="black"),
    showlegend=True,
    legend=dict(x=px(137), y=1.005, xanchor="left", yanchor="top", bgcolor="white",
                bordercolor="black", borderwidth=1, font=dict(family=FONT, size=25),
                traceorder="grouped", tracegroupgap=10, itemsizing="trace",
                entrywidth=132, entrywidthmode="pixels"),
)

fig.write_html("out.html")
